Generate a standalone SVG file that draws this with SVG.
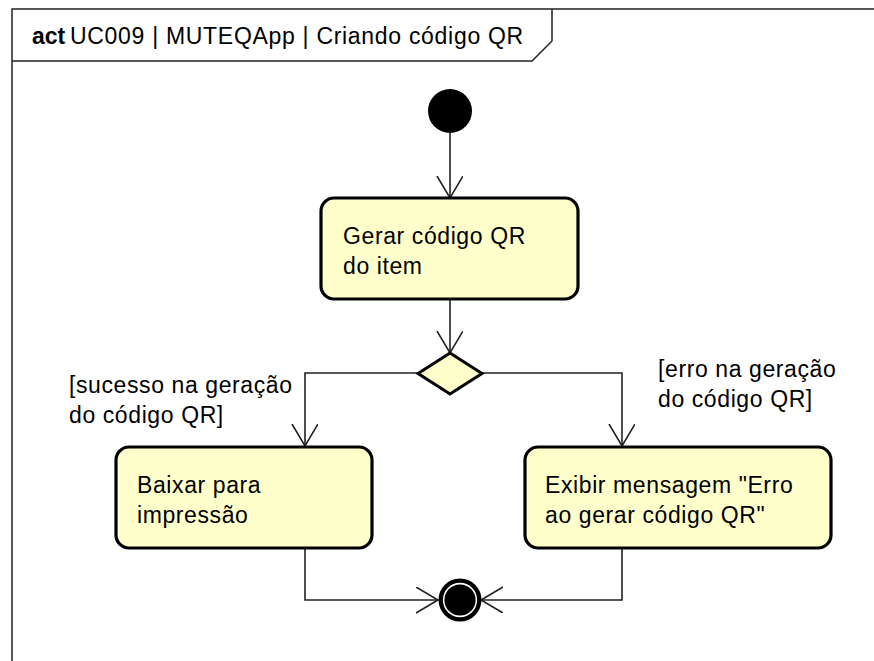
<svg xmlns="http://www.w3.org/2000/svg" width="874" height="661" viewBox="0 0 874 661">
<style>
  text { font-family: "Liberation Sans", Arial, sans-serif; font-size: 23px; letter-spacing: 0.6px; fill: #000; }
  .title { letter-spacing: 0.7px; }
  .bold { font-weight: bold; letter-spacing: 0px; }
  .frame { fill: none; stroke: #222; stroke-width: 1.5; }
  .action { fill: #ffffcc; stroke: #000; stroke-width: 3.2; }
  .decision { fill: #ffffcc; stroke: #000; stroke-width: 3; stroke-linejoin: miter; }
  .edge { fill: none; stroke: #222; stroke-width: 1.6; }
</style>
<defs>
  <marker id="open" markerWidth="26" markerHeight="30" refX="22" refY="13" orient="auto" markerUnits="userSpaceOnUse">
    <path d="M0,0 L22,13 L0,26" fill="none" stroke="#222" stroke-width="1.6"/>
  </marker>
</defs>
<rect width="874" height="661" fill="#fff"/>
<g id="frame">
  <path class="frame" d="M12,661 L12,9 L874,9"/>
  <path class="frame" d="M12,61 L532,61 L552,41 L552,9"/>
  <text class="title" x="32" y="44"><tspan class="bold">act</tspan><tspan x="70">UC009 | MUTEQApp | Criando código QR</tspan></text>
</g>
<g id="edges">
  <path class="edge" d="M450,133 L450,198" marker-end="url(#open)"/>
  <path class="edge" d="M450,299 L450,353" marker-end="url(#open)"/>
  <path class="edge" d="M418,373 L305,373 L305,446" marker-end="url(#open)"/>
  <path class="edge" d="M482,373 L622,373 L622,446" marker-end="url(#open)"/>
  <path class="edge" d="M305,548 L305,600 L438,600" marker-end="url(#open)"/>
  <path class="edge" d="M622,548 L622,600 L481,600" marker-end="url(#open)"/>
  <text x="69" y="393">[sucesso na geração</text>
  <text x="69" y="423">do código QR]</text>
  <text x="658" y="377">[erro na geração</text>
  <text x="658" y="407">do código QR]</text>
</g>
<g id="initial">
  <circle cx="450" cy="111" r="22" fill="#000"/>
</g>
<g id="gerar">
  <rect class="action" x="321" y="198" width="257" height="101" rx="13"/>
  <text x="343" y="244">Gerar código QR</text>
  <text x="343" y="274">do item</text>
</g>
<g id="decision">
  <polygon class="decision" points="450,353 482,373.5 450,394 418,373.5"/>
</g>
<g id="baixar">
  <rect class="action" x="116" y="447" width="256" height="101" rx="13"/>
  <text x="137" y="493">Baixar para</text>
  <text x="137" y="523">impressão</text>
</g>
<g id="exibir">
  <rect class="action" x="525" y="447" width="306" height="101" rx="13"/>
  <text x="545" y="493">Exibir mensagem "Erro</text>
  <text x="545" y="523">ao gerar código QR"</text>
</g>
<g id="final">
  <circle cx="460" cy="600" r="19.3" fill="#fff" stroke="#000" stroke-width="4.3"/>
  <circle cx="460" cy="600" r="15.6" fill="#000"/>
</g>
</svg>
